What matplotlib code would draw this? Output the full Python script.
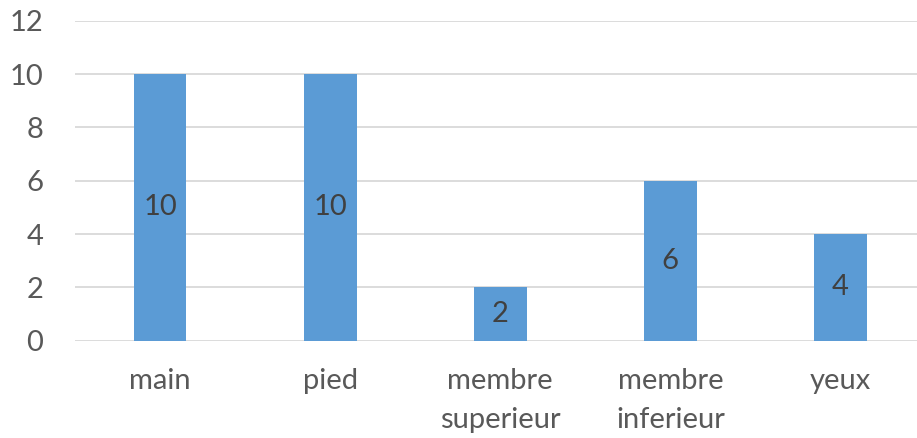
import numpy as np
import matplotlib.pyplot as plt

# chart data
categories = ['main', 'pied', 'membre\nsuperieur', 'membre\ninferieur', 'yeux']
values = [10, 10, 2, 6, 4]
yticks = [0, 2, 4, 6, 8, 10, 12]

plt.rcParams['font.family'] = ['Lato', 'DejaVu Sans']

fig = plt.figure(figsize=(9.17, 4.38), dpi=100)
ax = fig.add_axes([75 / 917, 97.3 / 438, 842 / 917, 320 / 438])

x = np.arange(len(categories))
bars = ax.bar(x, values, width=0.31, color='#5B9BD5', zorder=3)

# value labels in the middle of each bar
for xi, v in zip(x, values):
    ax.text(xi, v / 2, str(v), ha='center', va='center',
            fontsize=21, color='#404040', zorder=4)

ax.set_xlim(-0.5, 4.45)
ax.set_ylim(0, 12)
ax.set_yticks(yticks)
ax.set_xticks(x)
ax.set_xticklabels(categories, linespacing=1.6)

ax.tick_params(axis='y', length=0, pad=23, labelsize=21, labelcolor='#595959')
ax.tick_params(axis='x', length=0, pad=20, labelsize=21, labelcolor='#595959')

ax.grid(axis='y', color='#D9D9D9', linewidth=1.3, zorder=0)
for s in ax.spines.values():
    s.set_visible(False)

fig.savefig('out.png', dpi=100)
